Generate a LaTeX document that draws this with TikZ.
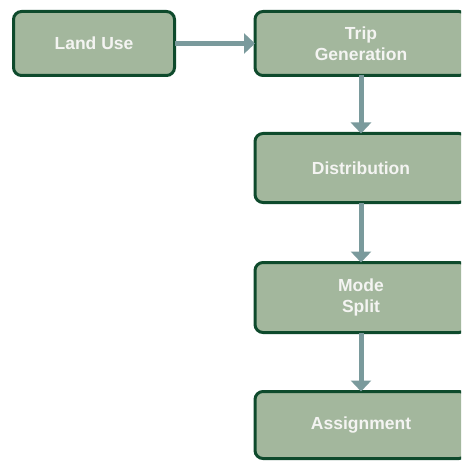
\documentclass[tikz,border=0pt]{standalone}
\usepackage{fontspec}
\setmainfont{Liberation Sans}
\usetikzlibrary{arrows.meta}
\definecolor{boxfill}{HTML}{A3B79D}
\definecolor{boxline}{HTML}{0E4A2C}
\definecolor{arrowc}{HTML}{7A9A9C}
\definecolor{txt}{HTML}{F4F4F2}
\tikzset{
  stepbox/.style={draw=boxline, fill=boxfill, line width=3pt, rounded corners=8pt,
    inner sep=0pt, outer sep=0pt, align=center, text=txt,
    font=\fontsize{17.5}{21.5}\selectfont\bfseries},
  flow/.style={draw=arrowc, line width=5pt, -{Triangle[width=20pt,length=11pt]}, arrowc}
}
\begin{document}
\begin{tikzpicture}[x=1pt,y=-1pt]
\useasboundingbox (0,0) rectangle (461,462);
\begin{scope}
\clip (0,0) rectangle (461,462);
\node[stepbox, minimum width=161pt, minimum height=64pt] (land) at (94,43.5) {Land Use};
\node[stepbox, minimum width=212pt, minimum height=64pt] (trip) at (361,43.5) {Trip\\Generation};
\node[stepbox, minimum width=212pt, minimum height=69pt] (dist) at (361,168) {Distribution};
\node[stepbox, minimum width=212pt, minimum height=70pt] (mode) at (361,297.5) {Mode\\Split};
\node[stepbox, minimum width=212pt, minimum height=67pt] (assign) at (361,425) {Assignment};
\draw[flow] (land.east) -- (trip.west);
\draw[flow] (trip.south) -- (dist.north);
\draw[flow] (dist.south) -- (mode.north);
\draw[flow] (mode.south) -- (assign.north);
\end{scope}
\end{tikzpicture}
\end{document}
